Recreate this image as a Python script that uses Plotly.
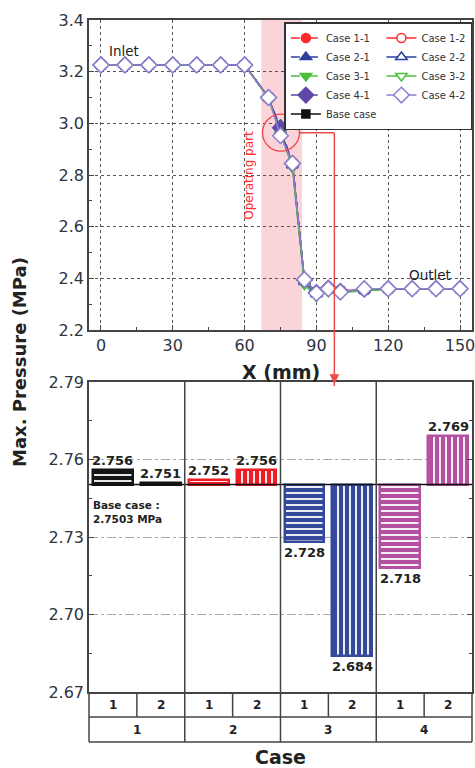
import plotly.graph_objects as go

# ---------------- data: top chart ----------------
x_mm = [0, 10, 20, 30, 40, 50, 60, 70, 75, 80, 85, 90, 95, 100, 110, 120, 130, 140, 150]
case_1_1 = [3.226, 3.226, 3.226, 3.226, 3.226, 3.226, 3.226, 3.102, 2.978, 2.845, 2.390, 2.342, 2.356, 2.352, 2.357, 2.360, 2.360, 2.360, 2.360]
case_1_2 = [3.226, 3.226, 3.226, 3.226, 3.226, 3.226, 3.226, 3.101, 2.975, 2.843, 2.392, 2.344, 2.357, 2.351, 2.356, 2.360, 2.360, 2.360, 2.360]
case_2_1 = [3.226, 3.226, 3.226, 3.226, 3.226, 3.226, 3.226, 3.100, 2.972, 2.840, 2.388, 2.340, 2.355, 2.350, 2.355, 2.359, 2.360, 2.360, 2.360]
case_2_2 = [3.226, 3.226, 3.226, 3.226, 3.226, 3.226, 3.226, 3.100, 2.965, 2.838, 2.386, 2.338, 2.354, 2.349, 2.354, 2.359, 2.360, 2.360, 2.360]
case_3_1 = [3.226, 3.226, 3.226, 3.226, 3.226, 3.226, 3.226, 3.098, 2.970, 2.830, 2.378, 2.332, 2.350, 2.345, 2.353, 2.358, 2.360, 2.360, 2.360]
case_3_2 = [3.226, 3.226, 3.226, 3.226, 3.226, 3.226, 3.226, 3.097, 2.960, 2.828, 2.375, 2.330, 2.348, 2.344, 2.352, 2.358, 2.360, 2.360, 2.360]
case_4_1 = [3.226, 3.226, 3.226, 3.226, 3.226, 3.226, 3.226, 3.100, 2.983, 2.845, 2.395, 2.345, 2.362, 2.350, 2.358, 2.360, 2.360, 2.360, 2.360]
case_4_2 = [3.226, 3.226, 3.226, 3.226, 3.226, 3.226, 3.226, 3.100, 2.952, 2.845, 2.395, 2.342, 2.360, 2.347, 2.360, 2.360, 2.360, 2.360, 2.360]
base_case = [3.226, 3.226, 3.226, 3.226, 3.226, 3.226, 3.226, 3.100, 2.975, 2.842, 2.392, 2.345, 2.358, 2.350, 2.356, 2.360, 2.360, 2.360, 2.360]

series_names = ["Case 1-1", "Case 1-2", "Case 2-1", "Case 2-2", "Case 3-1",
                "Case 3-2", "Case 4-1", "Case 4-2", "Base case"]
series_values = [case_1_1, case_1_2, case_2_1, case_2_2, case_3_1,
                 case_3_2, case_4_1, case_4_2, base_case]

x_ticks = [0, 30, 60, 90, 120, 150]
y_ticks_top = [2.2, 2.4, 2.6, 2.8, 3.0, 3.2, 3.4]

# ---------------- data: bottom chart ----------------
bar_cases = ["1-1", "1-2", "2-1", "2-2", "3-1", "3-2", "4-1", "4-2"]
bar_values = [2.756, 2.751, 2.752, 2.756, 2.728, 2.684, 2.718, 2.769]
base_case_value = 2.7503
sub_labels = ["1", "2", "1", "2", "1", "2", "1", "2"]
group_labels = ["1", "2", "3", "4"]
y_ticks_bottom = [2.67, 2.70, 2.73, 2.76, 2.79]

# ---------------- styles ----------------
FONT = "DejaVu Sans"
TXT = "#2e3440"
RED = "#ff2a2a"
BLUE = "#2c3f9c"
GREEN = "#4cbf3c"
PURPLE = "#5f48a8"
LPURPLE = "#8a80d0"
BLACK = "#111111"

styles = {
    "Case 1-1": dict(color=RED, dash="dash", symbol="circle", filled=True, size=9),
    "Case 1-2": dict(color=RED, dash="solid", symbol="circle", filled=False, size=9),
    "Case 2-1": dict(color=BLUE, dash="dash", symbol="triangle-up", filled=True, size=10),
    "Case 2-2": dict(color=BLUE, dash="solid", symbol="triangle-up", filled=False, size=10),
    "Case 3-1": dict(color=GREEN, dash="dash", symbol="triangle-down", filled=True, size=10),
    "Case 3-2": dict(color=GREEN, dash="solid", symbol="triangle-down", filled=False, size=10),
    "Case 4-1": dict(color=PURPLE, dash="dash", symbol="diamond", filled=True, size=12),
    "Case 4-2": dict(color=LPURPLE, dash="solid", symbol="diamond", filled=False, size=12),
    "Base case": dict(color=BLACK, dash="solid", symbol="square", filled=True, size=8),
}

bar_colors = {"1": "#151515", "2": "#ee1c24", "3": "#34499c", "4": "#b3509f"}
bar_patterns = {"1": "-", "2": "|"}

fig = go.Figure()

# draw order: base case first, then cases; legend order by legendrank
draw_order = [8, 0, 1, 2, 3, 4, 5, 6, 7]
for idx in draw_order:
    name = series_names[idx]
    s = styles[name]
    fig.add_trace(go.Scatter(
        x=x_mm, y=series_values[idx], name=name, mode="lines+markers",
        xaxis="x", yaxis="y", legendrank=idx + 1,
        line=dict(color=s["color"], width=1.5, dash=s["dash"]),
        marker=dict(symbol=s["symbol"], size=s["size"],
                    color=s["color"] if s["filled"] else "white",
                    line=dict(color=s["color"], width=1.5)),
    ))

# bottom bars
bar_x = list(range(len(bar_values)))
colors = [bar_colors[c.split("-")[0]] for c in bar_cases]
shapes_pat = [bar_patterns[c.split("-")[1]] for c in bar_cases]
fig.add_trace(go.Bar(
    x=bar_x, y=[v - base_case_value for v in bar_values], base=base_case_value,
    xaxis="x2", yaxis="y2", width=0.83, showlegend=False,
    marker=dict(color=colors, line=dict(color=colors, width=2.5),
                pattern=dict(shape=shapes_pat, fgcolor="white", bgcolor=colors,
                             fgopacity=1, size=6, solidity=0.3, fillmode="overlay")),
))

ann = []
shp = []

# bar value labels
for i, v in enumerate(bar_values):
    above = v >= base_case_value
    ann.append(dict(x=bar_x[i], y=v, xref="x2", yref="y2", text=f"<b>{v:.3f}</b>",
                    showarrow=False, yanchor="bottom" if above else "top",
                    yshift=0 if above else -1,
                    font=dict(family=FONT, size=13, color="#222222")))

ann.append(dict(x=-0.45, y=2.7455, xref="x2", yref="y2", xanchor="left", yanchor="top",
                align="left", showarrow=False,
                text=f"<b>Base case :<br>{base_case_value} MPa</b>",
                font=dict(family=FONT, size=10.5, color="#222222")))

# base line in bottom chart
shp.append(dict(type="line", xref="paper", yref="y2", x0=0, x1=1,
                y0=base_case_value, y1=base_case_value,
                line=dict(color="#111111", width=1.5), layer="above"))

# table below bottom chart
row1 = -25 / 672
row2 = -50 / 672
top_bottom_plot = 310 / 672
for yy in [row1, row2]:
    shp.append(dict(type="line", xref="paper", yref="paper", x0=0, x1=1, y0=yy, y1=yy,
                    line=dict(color="#444444", width=1.5)))
for xx in [0, 1]:
    shp.append(dict(type="line", xref="paper", yref="paper", x0=xx, x1=xx, y0=0, y1=row2,
                    line=dict(color="#444444", width=1.5)))
n_groups = len(group_labels)
per_group = len(sub_labels) // n_groups
for g in range(n_groups):
    mid = g * per_group + (per_group - 1) / 2
    shp.append(dict(type="line", xref="x2", yref="paper", x0=mid, x1=mid, y0=0, y1=row1,
                    line=dict(color="#444444", width=1.5)))
    if g > 0:
        xd = g * per_group - 0.5
        shp.append(dict(type="line", xref="x2", yref="paper", x0=xd, x1=xd, y0=row2,
                        y1=top_bottom_plot, line=dict(color="#444444", width=1.5),
                        layer="above"))
    ann.append(dict(x=mid, y=(row1 + row2) / 2, xref="x2", yref="paper",
                    xanchor="center", yanchor="middle",
                    text=f"<b>{group_labels[g]}</b>", showarrow=False,
                    font=dict(family=FONT, size=12, color="#222222")))
for i, lab in enumerate(sub_labels):
    ann.append(dict(x=bar_x[i], y=row1 / 2, xref="x2", yref="paper",
                    xanchor="center", yanchor="middle",
                    text=f"<b>{lab}</b>", showarrow=False,
                    font=dict(family=FONT, size=12, color="#222222")))

# top chart decorations
shp.append(dict(type="rect", xref="x", yref="y", x0=67, x1=84, y0=2.2, y1=3.4,
                fillcolor="rgba(244,160,170,0.45)", line=dict(width=0), layer="below"))
shp.append(dict(type="circle", xref="x", yref="y", x0=75.2 - 7.7, x1=75.2 + 7.7,
                y0=2.964 - 0.0716, y1=2.964 + 0.0716,
                line=dict(color="#f04848", width=1.3)))
shp.append(dict(type="line", xref="x", yref="y", x0=75.2 + 7.7, x1=97.5, y0=2.964, y1=2.964,
                line=dict(color="#f04848", width=1.5)))
shp.append(dict(type="line", xref="x", yref="paper", x0=97.5, x1=97.5,
                y0=(692 - 133) / 672, y1=(692 - 386) / 672,
                line=dict(color="#f04848", width=1.5)))
ann.append(dict(x=97.5, y=(692 - 384) / 672, xref="x", yref="paper", ax=0, ay=-12,
                showarrow=True, arrowhead=2, arrowsize=1.3, arrowwidth=1.5,
                arrowcolor="#f04848", text=""))
ann.append(dict(x=61.5, y=2.798, xref="x", yref="y", text="Operating part", textangle=-90,
                showarrow=False, font=dict(family=FONT, size=12, color="#ff2a2a")))
ann.append(dict(x=9.6, y=3.281, xref="x", yref="y", text="Inlet", showarrow=False,
                font=dict(family=FONT, size=13.5, color="#222222")))
ann.append(dict(x=137.5, y=2.412, xref="x", yref="y", text="Outlet", showarrow=False,
                font=dict(family=FONT, size=13.5, color="#222222")))

# titles
ann.append(dict(x=0.5, y=(692 - 372) / 672, xref="paper", yref="paper", text="<b>X (mm)</b>",
                xanchor="center", yanchor="middle",
                showarrow=False, font=dict(family=FONT, size=19, color="#222222")))
ann.append(dict(x=0.5, y=(692 - 757) / 672, xref="paper", yref="paper", text="<b>Case</b>",
                xanchor="center", yanchor="middle",
                showarrow=False, font=dict(family=FONT, size=19, color="#222222")))
ann.append(dict(x=-70 / 383, y=(692 - 362) / 672, xref="paper", yref="paper",
                xanchor="center", yanchor="middle",
                text="<b>Max. Pressure (MPa)</b>", textangle=-90, showarrow=False,
                font=dict(family=FONT, size=18, color="#222222")))

axis_common = dict(showline=True, linecolor="#444444", linewidth=1.5, mirror=True,
                   zeroline=False, tickfont=dict(family=FONT, size=16, color=TXT))

fig.update_layout(
    width=475, height=768,
    margin=dict(l=89, r=3, t=20, b=76, autoexpand=False),
    paper_bgcolor="white", plot_bgcolor="white",
    font=dict(family=FONT, color=TXT),
    xaxis=dict(domain=[0, 1], anchor="y", range=[-5, 155], tickvals=x_ticks,
               ticks="inside", ticklen=5, tickcolor="#444444", ticklabeloverflow="allow",
               showgrid=True, gridcolor="#555555", griddash="dot", gridwidth=1,
               minor=dict(ticks="inside", dtick=15, ticklen=3, tickcolor="#444444", showgrid=False),
               **axis_common),
    yaxis=dict(domain=[362 / 672, 1], anchor="x", range=[2.2, 3.4], tickvals=y_ticks_top,
               tickformat=".1f", ticks="inside", ticklen=5, tickcolor="#444444",
               showgrid=True, gridcolor="#555555", griddash="dot", gridwidth=1,
               minor=dict(ticks="inside", dtick=0.1, ticklen=3, tickcolor="#444444", showgrid=False),
               **axis_common),
    xaxis2=dict(domain=[0, 1], anchor="y2", range=[-0.5, 7.5], showticklabels=False,
                ticks="", showgrid=False, **axis_common),
    yaxis2=dict(domain=[0, 310 / 672], anchor="x2", range=[2.67, 2.79], tickvals=y_ticks_bottom,
                tickformat=".2f", ticks="inside", ticklen=5, tickcolor="#444444",
                showgrid=True, gridcolor="#aaaaaa", griddash="dashdot", gridwidth=1,
                minor=dict(ticks="inside", dtick=0.015, ticklen=3, tickcolor="#444444", showgrid=False),
                **axis_common),
    legend=dict(orientation="h", x=1.001, xanchor="right", y=0.997, yanchor="top",
                bgcolor="white", bordercolor="#333333", borderwidth=1.5,
                font=dict(family=FONT, size=10, color="#333333"),
                traceorder="normal", itemwidth=30, tracegroupgap=0),
    showlegend=True,
    annotations=ann, shapes=shp, bargap=0,
)
fig.update_yaxes(selector=dict(anchor="x2"), mirror="ticks")

fig.write_html("out.html")
